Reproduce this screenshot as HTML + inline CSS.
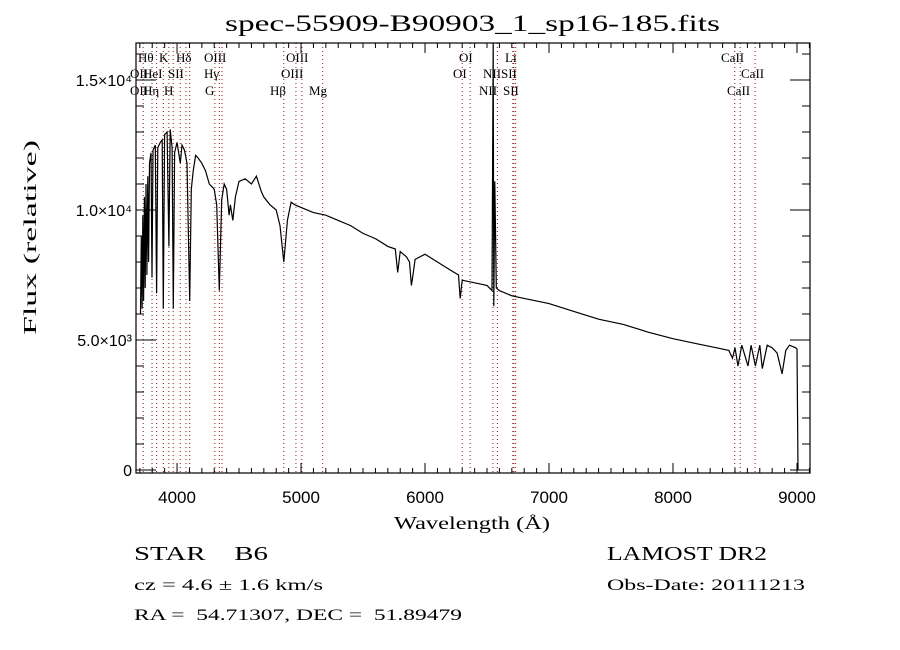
<!DOCTYPE html>
<html><head><meta charset="utf-8"><style>
body{margin:0;background:#fff;width:900px;height:650px;overflow:hidden}
svg{display:block}
</style></head><body>
<svg id="chart" width="900" height="650" xmlns="http://www.w3.org/2000/svg" font-family="Liberation Serif, serif">
<text x="225" y="31" font-size="23" textLength="495" lengthAdjust="spacingAndGlyphs">spec-55909-B90903_1_sp16-185.fits</text>
<g id="plot"></g>
<text x="394" y="529" font-size="18" textLength="156" lengthAdjust="spacingAndGlyphs">Wavelength (Å)</text>
<text transform="translate(36,335) rotate(-90)" font-size="18" textLength="195" lengthAdjust="spacingAndGlyphs">Flux (relative)</text>
<text x="134" y="560" font-size="20" textLength="134" lengthAdjust="spacingAndGlyphs" xml:space="preserve">STAR    B6</text>
<text x="134" y="590" font-size="16" textLength="189" lengthAdjust="spacingAndGlyphs">cz = 4.6 ± 1.6 km/s</text>
<text x="134" y="620" font-size="16" textLength="328" lengthAdjust="spacingAndGlyphs" xml:space="preserve">RA =  54.71307, DEC =  51.89479</text>
<text x="607" y="560" font-size="20" textLength="160" lengthAdjust="spacingAndGlyphs">LAMOST DR2</text>
<text x="607" y="590" font-size="16" textLength="198" lengthAdjust="spacingAndGlyphs">Obs-Date: 20111213</text>
</svg>
<script>
const waves=[3705,3712,3718,3724,3730,3737,3743,3750,3757,3764,3771,3778,3790,3798,3806,3825,3835,3845,3865,3880,3889,3900,3920,3934,3945,3960,3970,3980,4000,4026,4040,4060,4080,4102,4115,4130,4150,4170,4200,4230,4260,4300,4320,4341,4360,4380,4400,4420,4430,4450,4471,4500,4550,4600,4640,4680,4700,4750,4800,4830,4861,4890,4920,4950,5000,5100,5200,5300,5400,5500,5600,5700,5760,5780,5800,5850,5875,5890,5900,5920,6000,6100,6200,6270,6284,6300,6400,6500,6540,6550,6555,6563,6575,6600,6700,6800,7000,7200,7400,7600,7800,8000,8200,8400,8450,8480,8500,8524,8555,8580,8605,8630,8665,8700,8720,8760,8800,8840,8880,8910,8940,8990,9000,9008];
const fluxes=[6000,9000,6200,9800,6500,10500,7000,11000,7500,11300,8000,11800,12200,7400,12300,12500,6800,12400,12600,12700,6200,12900,13000,8600,13100,12400,6200,12200,12600,11800,12500,12300,11800,6500,10800,11500,12100,12000,11800,11500,11000,10800,10200,6900,10400,11000,10800,9800,10200,9600,10500,11100,11200,11000,11300,10700,10500,10200,10000,9400,8000,9600,10300,10200,10100,9900,9800,9600,9400,9100,8900,8600,8500,7600,8400,8200,8000,7100,7400,8100,8300,8000,7700,7500,6600,7300,7200,7100,6900,17000,6300,11100,7000,6900,6700,6600,6400,6100,5800,5600,5300,5050,4850,4650,4600,4300,4700,4000,4800,4400,4000,4800,4000,4800,3900,4800,4700,4500,3700,4600,4800,4700,4650,0];
const lineWaves=[3727,3798,3835,3889,3934,3969,4026,4072,4102,4305,4341,4363,4861,4959,5007,5175,6300,6364,6548,6583,6708,6717,6731,8498,8542,8662];
const xTicks=[4000,5000,6000,7000,8000,9000];
const yTicks=[0,5000,10000,15000];
const yTickLabels=["0","5.0×10³","1.0×10⁴","1.5×10⁴"];
const labelTexts=[["Hθ",138,62],["K",159,62],["Hδ",176,62],["OIII",204,62],["OIII",286,62],["OI",459,62],["Li",505,62],["CaII",721,62],
["OII",130,78],["HeI",143,78],["SII",168,78],["Hγ",204,78],["OIII",281,78],["OI",453,78],["NII",483,78],["SII",501,78],["CaII",741,78],
["OII",130,95],["Hη",143,95],["H",164,95],["G",205,95],["Hβ",270,95],["Mg",309,95],["NII",479,95],["SII",503,95],["CaII",727,95]];
const L=136,R=810,T=43,B=473;
const X0=3669,X1=9105,Y0=-115,Y1=16423;
function sx(w){return L+(w-X0)/(X1-X0)*(R-L);}
function sy(f){let y=B+(f-Y0)/(Y1-Y0)*(T-B);return Math.max(T,Math.min(B,y));}
const NS="http://www.w3.org/2000/svg";
const g=document.getElementById('plot');
function mk(t,a){const e=document.createElementNS(NS,t);for(const k in a)e.setAttribute(k,a[k]);g.appendChild(e);return e;}
lineWaves.forEach(w=>{const e=mk('line',{x1:sx(w),x2:sx(w),y1:T,y2:B,stroke:'#8b1a1a','stroke-width':1,'stroke-dasharray':'1,3'});

});
labelTexts.forEach(l=>{const e=mk('text',{x:l[1],y:l[2],'font-size':13});e.textContent=l[0];

});
let pts=waves.map((w,i)=>sx(w).toFixed(1)+','+sy(fluxes[i]).toFixed(1)).join(' ');
const pl=mk('polyline',{points:pts,fill:'none',stroke:'#000','stroke-width':1.2});


const fr=mk('rect',{x:L,y:T,width:R-L,height:B-T,fill:'none',stroke:'#000','stroke-width':1.2});


for(let w=3700;w<=9100;w+=100){const mj=w%1000==0;const len=mj?10:5;const x=sx(w);
mk('line',{x1:x,x2:x,y1:B,y2:B-len,stroke:'#000'});mk('line',{x1:x,x2:x,y1:T,y2:T+len,stroke:'#000'});}
for(let f=0;f<=16000;f+=1000){const mj=f%5000==0;const len=mj?20:8;const y=sy(f);
mk('line',{x1:L,x2:L+len,y1:y,y2:y,stroke:'#000'});mk('line',{x1:R,x2:R-len,y1:y,y2:y,stroke:'#000'});}
xTicks.forEach(w=>{const e=mk('text',{x:sx(w),y:B+30,'font-size':17,'text-anchor':'middle','font-family':'Liberation Sans, sans-serif'});e.textContent=w;

});
yTicks.forEach((f,i)=>{const e=mk('text',{x:L-4,y:sy(f)+6,'font-size':16,'text-anchor':'end','font-family':'Liberation Sans, sans-serif'});e.textContent=yTickLabels[i];

});
</script>
</body></html>
